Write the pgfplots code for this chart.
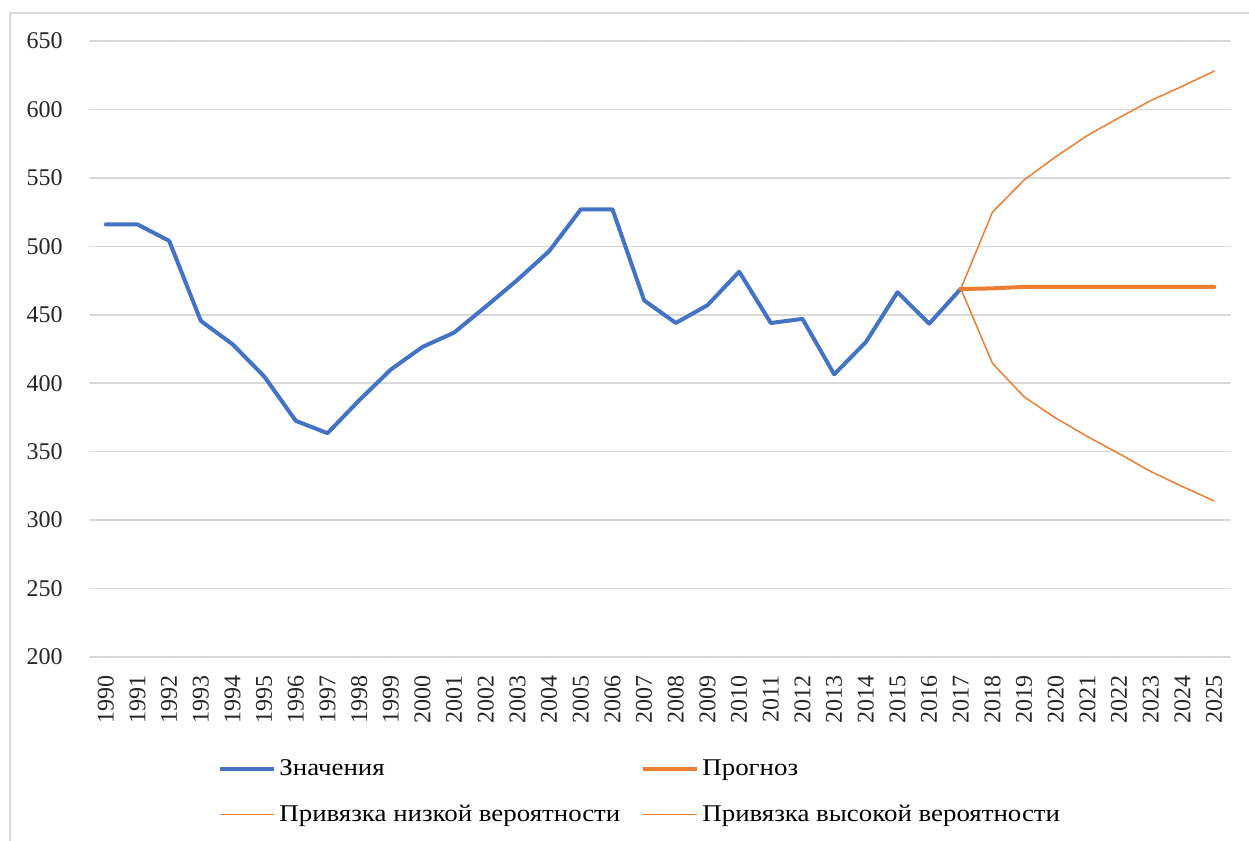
\documentclass[border=0pt]{standalone}
\usepackage{fontspec}
\setmainfont{Liberation Serif}
\newfontfamily\legfont[FakeStretch=1.12]{Liberation Serif}
\usepackage{pgfplots}
\pgfplotsset{compat=1.18}
\definecolor{serblue}{HTML}{4472C4}
\definecolor{serorange}{HTML}{ED7D31}
\definecolor{gridgray}{HTML}{D9D9D9}
\begin{document}
\begin{tikzpicture}
\path[use as bounding box] (0,0) rectangle (624.5pt,420.5pt);
% chart frame (only left and top edges are inside the picture)
\draw[gridgray,line width=0.75pt] (5pt,-2pt) -- (5pt,414pt) -- (628pt,414pt);
\begin{axis}[
  at={(45pt,92pt)},anchor=south west,
  scale only axis,width=570pt,height=308pt,
  xmin=1989.5,xmax=2025.5,ymin=200,ymax=650,
  xtick={1990,...,2025},ytick={200,250,...,650},
  axis line style={draw=none},
  major tick length=0pt,
  ymajorgrids,grid style={gridgray,line width=0.75pt},
  tick label style={font=\fontsize{12}{14}\selectfont,text=black!85},
  /pgf/number format/assume math mode=true,
  /pgf/number format/1000 sep={},
  yticklabel style={anchor=east,inner sep=0pt,xshift=-13.5pt},
  xticklabel style={rotate=90,anchor=east,inner sep=0pt},
  xticklabel shift=9pt,
  legend columns=2,
  legend cell align=left,
  legend style={at={(0.1123,-0.219)},anchor=west,draw=none,fill=none,
    font=\legfont\fontsize{12}{14}\selectfont,inner sep=0pt,row sep=10pt,
    nodes={inner sep=1.5pt},/tikz/column 2/.style={column sep=9pt}},
  legend image code/.code={\draw[#1] (0pt,0pt) -- (27pt,0pt);},
  line join=round,line cap=round,
]
\addplot[serblue,line width=2pt] coordinates {
(1990,516) (1991,516) (1992,504) (1993,445.5) (1994,428.5) (1995,405)
(1996,372.5) (1997,363.5) (1998,387.5) (1999,410) (2000,426.5) (2001,437)
(2002,456) (2003,475.5) (2004,496.5) (2005,527) (2006,527) (2007,460.5)
(2008,444) (2009,457) (2010,481.5) (2011,444) (2012,447) (2013,406.5)
(2014,430) (2015,466.5) (2016,443.5) (2017,469)};
\addlegendentry{Значения}
\addplot[serorange,line width=2pt] coordinates {
(2017,468.8) (2018,469.3) (2019,470.4) (2020,470.4) (2021,470.4)
(2022,470.4) (2023,470.4) (2024,470.4) (2025,470.4)};
\addlegendentry{Прогноз}
\addplot[serorange,line width=0.75pt] coordinates {
(2017,469) (2018,414.5) (2019,390) (2020,374.5) (2021,361)
(2022,348.5) (2023,335.5) (2024,324.5) (2025,314)};
\addlegendentry{Привязка низкой вероятности}
\addplot[serorange,line width=0.75pt] coordinates {
(2017,469) (2018,525) (2019,548.5) (2020,565.5) (2021,581)
(2022,594) (2023,606.5) (2024,617) (2025,628)};
\addlegendentry{Привязка высокой вероятности}
\end{axis}
\end{tikzpicture}
\end{document}
